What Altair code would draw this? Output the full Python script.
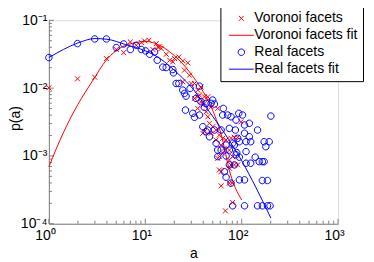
import altair as alt
import pandas as pd

# ---------------- data ----------------
vor_a = [1.00, 1.98, 2.99, 3.95, 5.01, 5.97, 7.00, 8.07, 9.10, 9.84, 10.9, 12.0, 13.5, 14.6,
         13.0, 14.0, 16.5, 17.9, 19.3, 20.1, 22.3, 24.5, 27.6, 25.5, 28.7, 29.9, 32.4, 35.0,
         37.8, 36.5, 41.1, 44.5, 24.5, 35.0, 32.4, 37.8, 44.5, 39.5, 48.2, 42.8, 44.5, 35.0,
         56.4, 46.3, 50.1, 41.1, 39.5, 48.2, 54.3, 58.7, 63.6, 68.9, 77.5, 54.3, 61.2, 66.2,
         63.6, 74.5, 58.7, 80.6, 98.4, 84.0, 90.9, 74.5, 77.5, 84.0, 90.9, 58.7, 61.2, 56.4,
         74.5, 74.5, 79.4, 61.2, 80.6, 67.8]
vor_p = [0.0101, 0.0137, 0.0145, 0.0273, 0.0371, 0.0335, 0.0480, 0.0429, 0.0470, 0.0497,
         0.0508, 0.0371, 0.0405, 0.0384, 0.0454, 0.0405, 0.0316, 0.0258, 0.0244, 0.0273,
         0.0288, 0.0252, 0.0236, 0.0184, 0.0155, 0.0117, 0.0117, 0.00935, 0.0104, 0.00789,
         0.00745, 0.00667, 0.0124, 0.00745, 0.00706, 0.00630, 0.00745, 0.00562, 0.00531,
         0.00448, 0.00378, 0.00502, 0.00502, 0.00303, 0.00270, 0.00228, 0.00216, 0.00216,
         0.00241, 0.00204, 0.00182, 0.00172, 0.00182, 0.00172, 0.00145, 0.00130, 0.00110,
         0.00122, 0.000977, 0.000977, 0.00319, 0.00188, 0.00188, 0.000873, 0.000738,
         0.000738, 0.000738, 0.000622, 0.000587, 0.000925, 0.000660, 0.000397, 0.000397,
         0.000362, 0.000206, 0.000155]

real_a = [1.00, 1.98, 2.99, 3.95, 5.01, 5.97, 7.00, 8.07, 9.10, 10.1, 11.1, 12.5, 13.3, 15.2,
          16.5, 19.3, 19.6, 22.3, 24.5, 25.5, 26.5, 29.2, 33.6, 37.8, 42.8, 41.1, 20.9, 36.5,
          26.1, 31.1, 32.4, 36.5, 48.2, 50.1, 52.1, 64.6, 63.6, 71.6, 77.5, 93.2, 87.4, 39.5,
          44.5, 52.1, 61.2, 74.5, 86.0, 46.3, 54.3, 68.9, 80.6, 90.9, 61.2, 74.5, 56.4, 68.9,
          87.4, 102, 107, 120, 146, 107, 120, 111, 124, 171, 193, 178, 201, 94.6, 84.0, 88.8,
          111, 138, 164, 152, 171, 124, 111, 94.6, 84.0, 74.5, 66.2, 68.9, 94.6, 107, 164,
          185, 80.6, 107, 146, 164, 185, 197, 77.5, 42.8, 56.4]
real_p = [0.0282, 0.0454, 0.0531, 0.0531, 0.0397, 0.0448, 0.0371, 0.0429, 0.0371, 0.0354,
          0.0316, 0.0342, 0.0258, 0.0204, 0.0201, 0.0188, 0.0168, 0.0117, 0.00935, 0.00836,
          0.00762, 0.0099, 0.00706, 0.00630, 0.00596, 0.00520, 0.0117, 0.0107, 0.00474,
          0.00425, 0.00371, 0.00401, 0.00596, 0.00667, 0.00582, 0.00502, 0.00401, 0.00401,
          0.00378, 0.00425, 0.00338, 0.00270, 0.00241, 0.00241, 0.00241, 0.00255, 0.00241,
          0.00192, 0.00154, 0.00145, 0.00154, 0.00182, 0.00122, 0.00122, 0.000977, 0.00100,
          0.00104, 0.00401, 0.00286, 0.00303, 0.00241, 0.00216, 0.00192, 0.00162, 0.00162,
          0.00162, 0.00162, 0.00137, 0.00387, 0.00162, 0.00145, 0.00112, 0.00116, 0.000958,
          0.000824, 0.000824, 0.000824, 0.000781, 0.000781, 0.000958, 0.000738, 0.000738,
          0.000587, 0.000486, 0.000444, 0.000444, 0.000434, 0.000434, 0.000184, 0.000184,
          0.000184, 0.000184, 0.000184, 0.000184, 0.000397, 0.00228, 0.00122]

vfit_a = [1.0, 1.41, 2.0, 2.82, 3.98, 5.62, 7.94, 10.0, 12.6, 15.8, 20.0, 25.1, 31.6, 39.8,
          50.1, 63.1, 74.1, 100.0]
vfit_p = [0.000692, 0.00219, 0.00575, 0.0126, 0.0263, 0.0398, 0.0468, 0.0490, 0.0457, 0.0389,
          0.0302, 0.0219, 0.0145, 0.00891, 0.00468, 0.00178, 0.000631, 0.000224]

rfit_a = [1.0, 2.0, 3.0, 4.0, 6.3, 10.0, 14.1, 22.4, 31.6, 44.7, 66.0, 100.0, 141.0, 201.0]
rfit_p = [0.0282, 0.0463, 0.0538, 0.0526, 0.0437, 0.0355, 0.0275, 0.0158, 0.00955, 0.00479,
          0.00219, 0.000851, 0.000339, 0.000121]

series_names = ["Voronoi facets", "Voronoi facets fit", "Real facets", "Real facets fit"]
series_colors = ["#ff0000", "#ff0000", "#0000ff", "#0000ff"]
X_PATH = "M-0.5,-0.5L0.5,0.5M-0.5,0.5L0.5,-0.5"
LINE_PATH = "M-2.5,0L2.5,0"
CIRC_PATH = "M-0.65,0A0.65,0.65,0,1,1,0.65,0A0.65,0.65,0,1,1,-0.65,0Z"
series_shapes = [X_PATH, LINE_PATH, CIRC_PATH, LINE_PATH]

x_major = [1, 10, 100, 1000]
y_major = [1e-4, 1e-3, 1e-2, 1e-1]
x_minor = [m * d for d in [1, 10, 100] for m in range(2, 10)]
y_minor = [m * d for d in [1e-4, 1e-3, 1e-2] for m in range(2, 10)]

# ---------------- tables ----------------
vor_df = pd.DataFrame({"a": vor_a, "p": vor_p, "series": series_names[0]})
vfit_df = pd.DataFrame({"a": vfit_a, "p": vfit_p, "series": series_names[1]})
real_df = pd.DataFrame({"a": real_a, "p": real_p, "series": series_names[2]})
rfit_df = pd.DataFrame({"a": rfit_a, "p": rfit_p, "series": series_names[3]})

FONT = "Liberation Sans"
AX_COLOR = "#808080"

x_axis = alt.Axis(values=x_major, ticks=False, grid=False, domainColor=AX_COLOR,
                  labelFont=FONT, labelFontSize=14, labelColor="black", labelPadding=5,
                  labelOffset=-4, labelFlush=False, labelOverlap=False,
                  labelExpr="'10' + (datum.value >= 999 ? '³' : datum.value >= 99 ? '²' : datum.value >= 9 ? '¹' : '⁰')",
                  title="a", titleFont=FONT, titleFontSize=14, titleFontWeight="normal",
                  titleColor="black", titlePadding=4)
y_axis = alt.Axis(values=y_major, ticks=False, grid=False, domainColor=AX_COLOR,
                  labelFont=FONT, labelFontSize=14, labelColor="black", labelPadding=2,
                  labelFlush=False, labelOverlap=False,
                  labelExpr="datum.value < 0.0005 ? '10⁻⁴' : datum.value < 0.005 ? '10⁻³' : datum.value < 0.05 ? '10⁻²' : '10⁻¹'",
                  title="p(a)", titleFont=FONT, titleFontSize=14, titleFontWeight="normal",
                  titleColor="black", titleX=-26, titleY=98, titleAngle=270,
                  titleAlign="center", titleBaseline="bottom")

xs = alt.Scale(type="log", domain=[1, 1000], nice=False)
ys = alt.Scale(type="log", domain=[1e-4, 1e-1], nice=False)

X = alt.X("a:Q", scale=xs, axis=x_axis)
Y = alt.Y("p:Q", scale=ys, axis=y_axis)

legend = alt.Legend(title=None, orient="none", legendX=172, legendY=-14,
                    strokeColor="black", fillColor="white", padding=5, cornerRadius=0,
                    labelFont=FONT, labelFontSize=14, labelColor="black", labelLimit=200,
                    symbolSize=100, symbolStrokeWidth=1, rowPadding=3,
                    labelOffset=6, symbolOffset=9)

color = alt.Color("series:N", scale=alt.Scale(domain=series_names, range=series_colors),
                  legend=legend)
shape = alt.Shape("series:N", scale=alt.Scale(domain=series_names, range=series_shapes),
                  legend=legend)

vor_pts = alt.Chart(vor_df).mark_point(filled=False, size=100, strokeWidth=1, opacity=1).encode(
    x=X, y=Y, color=color, shape=shape)
vor_line = alt.Chart(vfit_df).mark_line(strokeWidth=1, interpolate="monotone").encode(
    x=X, y=Y, color=color)
real_pts = alt.Chart(real_df).mark_point(filled=False, size=100, strokeWidth=1, opacity=1).encode(
    x=X, y=Y, color=color, shape=shape)
real_line = alt.Chart(rfit_df).mark_line(strokeWidth=1, interpolate="monotone").encode(
    x=X, y=Y, color=color)

xmaj_df = pd.DataFrame({"a": x_major})
xmin_df = pd.DataFrame({"a": x_minor})
ymaj_df = pd.DataFrame({"p": y_major})
ymin_df = pd.DataFrame({"p": y_minor})

xt_major = alt.Chart(xmaj_df).mark_rule(color=AX_COLOR, strokeWidth=1).encode(
    x=X, y=alt.value(204), y2=alt.value(199))
xt_minor = alt.Chart(xmin_df).mark_rule(color=AX_COLOR, strokeWidth=1).encode(
    x=X, y=alt.value(204), y2=alt.value(201))
yt_major = alt.Chart(ymaj_df).mark_rule(color=AX_COLOR, strokeWidth=1).encode(
    y=Y, x=alt.value(0), x2=alt.value(5))
yt_minor = alt.Chart(ymin_df).mark_rule(color=AX_COLOR, strokeWidth=1).encode(
    y=Y, x=alt.value(0), x2=alt.value(3))

chart = alt.layer(
    xt_minor, xt_major, yt_minor, yt_major, vor_pts, vor_line, real_pts, real_line
).properties(
    width=290, height=204,
    autosize=alt.AutoSizeParams(type="none"),
    padding={"left": 41, "top": 12, "right": 28, "bottom": 36},
).configure_view(stroke=None).configure(font=FONT)

chart.save("out.html", embed_options={"renderer": "svg", "actions": False})
